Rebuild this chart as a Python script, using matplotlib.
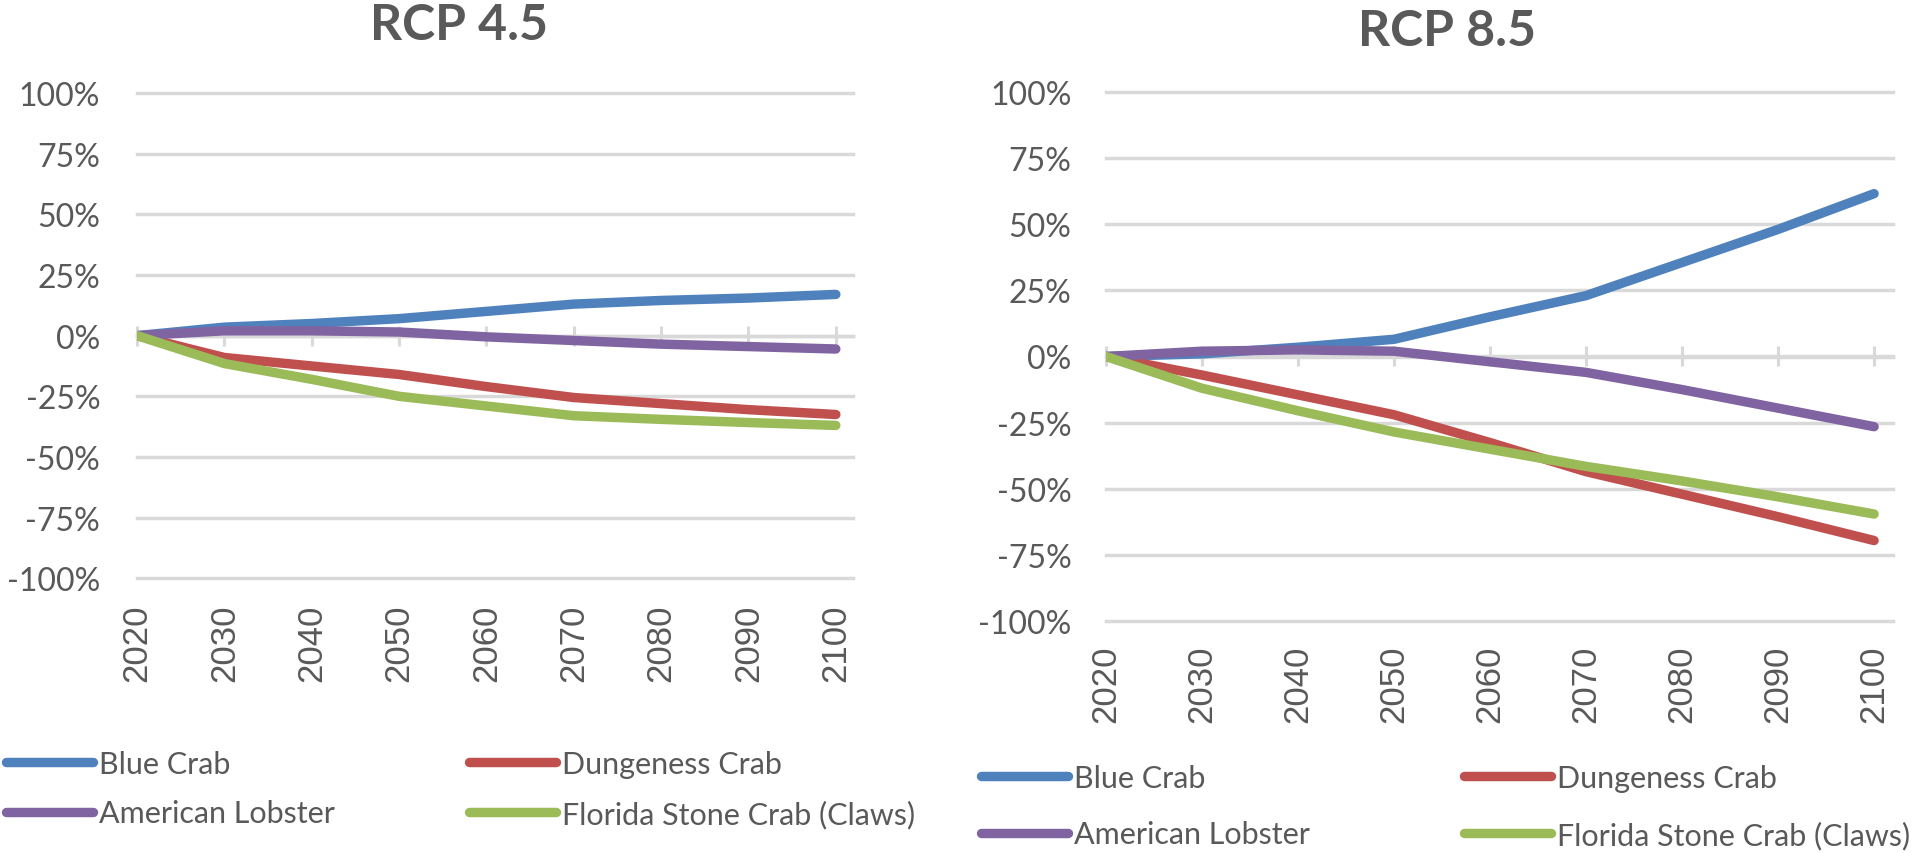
import matplotlib
matplotlib.use("Agg")
import matplotlib.pyplot as plt
from matplotlib.transforms import ScaledTranslation

# Data (percent change relative to 2020)
years = [2020, 2030, 2040, 2050, 2060, 2070, 2080, 2090, 2100]
species = ['Blue Crab', 'Dungeness Crab', 'American Lobster', 'Florida Stone Crab (Claws)']

blue_45 = [0, 3.5, 5, 7, 10, 13, 14.5, 15.5, 17]
red_45 = [0, -9, -12.5, -16, -21, -25.5, -28, -30.5, -32.5]
purple_45 = [0, 2, 2, 1.5, -0.5, -2, -3.5, -4.5, -5.5]
green_45 = [0, -11.5, -18, -25, -29, -33, -34.5, -35.8, -37]

blue_85 = [0, 1, 3.5, 6.5, 15, 23, 35.5, 48, 61.5]
red_85 = [0, -7, -14.5, -22, -32.5, -43.5, -52, -60.5, -69.5]
purple_85 = [0, 2, 2.5, 2, -2, -6, -12.5, -19.5, -26.5]
green_85 = [0, -12, -20.5, -28.5, -35, -41.5, -47, -53, -59.5]

y_ticks = [100, 75, 50, 25, 0, -25, -50, -75, -100]

colors = ['#4F81BD', '#C0504D', '#8064A2', '#9BBB59']
text_col = '#595959'
grid_col = '#D9D9D9'
narrow = ['Lato', 'DejaVu Sans']
wide = ['Liberation Sans', 'DejaVu Sans']

W, H = 1920, 854
fig = plt.figure(figsize=(W / 100, H / 100), dpi=100)


def px_box(x0, x1, ytop, ybot):
    return [x0 / W, 1 - ybot / H, (x1 - x0) / W, (ybot - ytop) / H]


def panel(box, series, title, title_xy, ypad, xpad, leg_x, leg_y, leg_sp, col2_x):
    ax = fig.add_axes(box)
    handles = []
    for vals, c, name in zip(series, colors, species):
        ln, = ax.plot(years, vals, color=c, lw=6.8, solid_capstyle='round',
                      solid_joinstyle='round', label=name, zorder=3)
        handles.append(ln)
    ax.set_xlim(2020, 2102)
    ax.set_ylim(-100, 100)
    ax.set_yticks(y_ticks)
    ax.set_yticklabels([f'{v}%' for v in y_ticks], fontsize=23,
                       family=narrow, color=text_col)
    ax.set_xticks(years)
    ax.set_xticklabels([str(y) for y in years], rotation=90, fontsize=25,
                       family=wide, color=text_col)
    off = ScaledTranslation(0.06, 0, fig.dpi_scale_trans)
    for lab in ax.get_xticklabels():
        lab.set_transform(lab.get_transform() + off)
    ax.tick_params(axis='both', length=0)
    ax.tick_params(axis='y', pad=ypad)
    ax.tick_params(axis='x', pad=xpad)
    for s in ax.spines.values():
        s.set_visible(False)
    ax.yaxis.grid(True, color=grid_col, lw=2.5)
    ax.xaxis.grid(False)
    for gl in ax.get_ygridlines():
        gl.set_clip_on(False)

    # crossing tick marks on the zero line
    sec = ax.secondary_xaxis(0.5)
    sec.set_xticks(years)
    sec.tick_params(direction='inout', length=15, width=2.2, color=grid_col,
                    labeltop=False, labelbottom=False)
    for s in sec.spines.values():
        s.set_color(grid_col)
        s.set_linewidth(2.5)

    fig.text(title_xy[0] / W, 1 - title_xy[1] / H, title, ha='center', va='center',
             fontsize=36, fontweight='bold', family=narrow, color=text_col)

    for cols, x in ((handles[0::2], leg_x), (handles[1::2], col2_x)):
        fig.legend(cols, [h.get_label() for h in cols], loc='upper left',
                   bbox_to_anchor=(x / W, 1 - leg_y / H), frameon=False,
                   borderpad=0, borderaxespad=0, handlelength=2.85,
                   handletextpad=0.2, labelspacing=leg_sp,
                   prop={'family': narrow, 'size': 22}, labelcolor=text_col)
    return ax


panel(px_box(137, 853.3, 94, 579.3), [blue_45, red_45, purple_45, green_45],
      'RCP 4.5', (459, 26), 26.5, 18, 6, 751, 0.7, 469)
panel(px_box(1106, 1893.3, 92.7, 622.3), [blue_85, red_85, purple_85, green_85],
      'RCP 8.5', (1447, 31), 25, 17, 981, 765, 0.93, 1464)

fig.savefig('out.png', dpi=100)
